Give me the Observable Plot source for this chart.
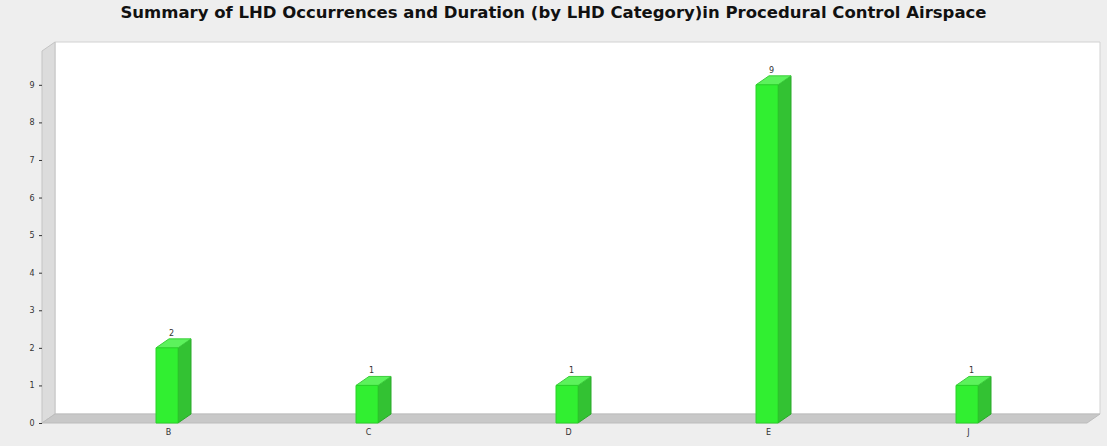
<!DOCTYPE html>
<html>
<head>
<meta charset="utf-8">
<script src="https://cdn.jsdelivr.net/npm/d3@7"></script>
<script src="https://cdn.jsdelivr.net/npm/@observablehq/plot@0.6"></script>
<style>
  html, body { margin: 0; padding: 0; background: #eeeeee; }
  #chart { width: 1107px; height: 446px; overflow: hidden; }
  #title {
    height: 26px; line-height: 26px; padding-top: 3px; box-sizing: border-box; text-align: center;
    font: bold 16.5px "DejaVu Sans", sans-serif; color: #111; white-space: nowrap;
  }
  svg { display: block; }
</style>
</head>
<body>
<div id="chart">
  <div id="title">Summary of LHD Occurrences and Duration (by LHD Category)in Procedural Control Airspace</div>
</div>
<script>
// LHD occurrences per category
const categories = ["B", "C", "D", "E", "J"];
const counts = [2, 1, 1, 9, 1];
const yTicks = [0, 1, 2, 3, 4, 5, 6, 7, 8, 9];

const data = categories.map((c, i) => ({category: c, count: counts[i]}));

// depth of the pseudo-3D extrusion
const DX = 13, DY = 9;
const BAR_HALF = 11;
const yMax = 9.9;

const W = 1107, H = 420;
const marginLeft = 42, marginRight = 20, marginTop = 25, marginBottom = 23;

function poly(points, fill, stroke) {
  const p = document.createElementNS("http://www.w3.org/2000/svg", "polygon");
  p.setAttribute("points", points.map(d => d.join(",")).join(" "));
  p.setAttribute("fill", fill);
  if (stroke) { p.setAttribute("stroke", stroke); p.setAttribute("stroke-width", 1); }
  return p;
}

function bandwidthOf(scales) {
  const s = scales.scales && scales.scales.x;
  if (s && typeof s.bandwidth === "number") return s.bandwidth;
  const b = scales.x.bandwidth;
  return typeof b === "function" ? b() : (typeof b === "number" ? b : 0);
}

// back wall, left wall and floor, sized from the scales
function walls(index, scales, values, dim) {
  const g = document.createElementNS("http://www.w3.org/2000/svg", "g");
  const x0 = dim.marginLeft, x1 = dim.width - dim.marginRight;
  const y0 = scales.y(0), yTop = scales.y(yMax);
  g.append(poly([[x0 + DX, yTop - DY], [x1 + DX, yTop - DY], [x1 + DX, y0 - DY], [x0 + DX, y0 - DY]], "#ffffff", "#d2d2d2"));
  g.append(poly([[x0, y0], [x0, yTop], [x0 + DX, yTop - DY], [x0 + DX, y0 - DY]], "#dcdcdc", "#c4c4c4"));
  g.append(poly([[x0, y0], [x1, y0], [x1 + DX, y0 - DY], [x0 + DX, y0 - DY]], "#c8c8c8", "#bcbcbc"));
  return g;
}

// extruded bars: side, top and front faces
function bars3d(index, scales, values, dim) {
  const g = document.createElementNS("http://www.w3.org/2000/svg", "g");
  const bw = bandwidthOf(scales);
  for (const d of data) {
    const cx = scales.x(d.category) + bw / 2 - 1;
    const l = cx - BAR_HALF, r = cx + BAR_HALF;
    const yb = scales.y(0), yt = scales.y(d.count);
    g.append(poly([[r, yb], [r, yt], [r + DX, yt - DY], [r + DX, yb - DY]], "#33c233", "#2aa82a"));
    g.append(poly([[l, yt], [r, yt], [r + DX, yt - DY], [l + DX, yt - DY]], "#5cf25c", "#3ccf3c"));
    g.append(poly([[l, yb], [r, yb], [r, yt], [l, yt]], "#31ef31", "#2ad22a"));
  }
  return g;
}

const chart = Plot.plot({
  width: W,
  height: H,
  marginLeft, marginRight, marginTop, marginBottom,
  style: {background: "transparent", fontFamily: "DejaVu Sans, sans-serif"},
  x: {type: "band", domain: categories, range: [67, 1068], padding: 0},
  y: {domain: [0, yMax]},
  marks: [
    walls,
    bars3d,
    Plot.text(data, {
      x: "category",
      y: "count",
      text: d => String(d.count),
      dx: 3,
      dy: -DY - 6,
      fontSize: 8,
      fill: "#333"
    }),
    Plot.axisY({ticks: yTicks, tickSize: 3, tickPadding: 5, fontSize: 8, color: "#333", label: null, tickFormat: d3.format("d")}),
    Plot.axisX({tickSize: 0, tickPadding: 6, fontSize: 8, color: "#333", label: null})
  ]
});

document.getElementById("chart").append(chart);
</script>
</body>
</html>
